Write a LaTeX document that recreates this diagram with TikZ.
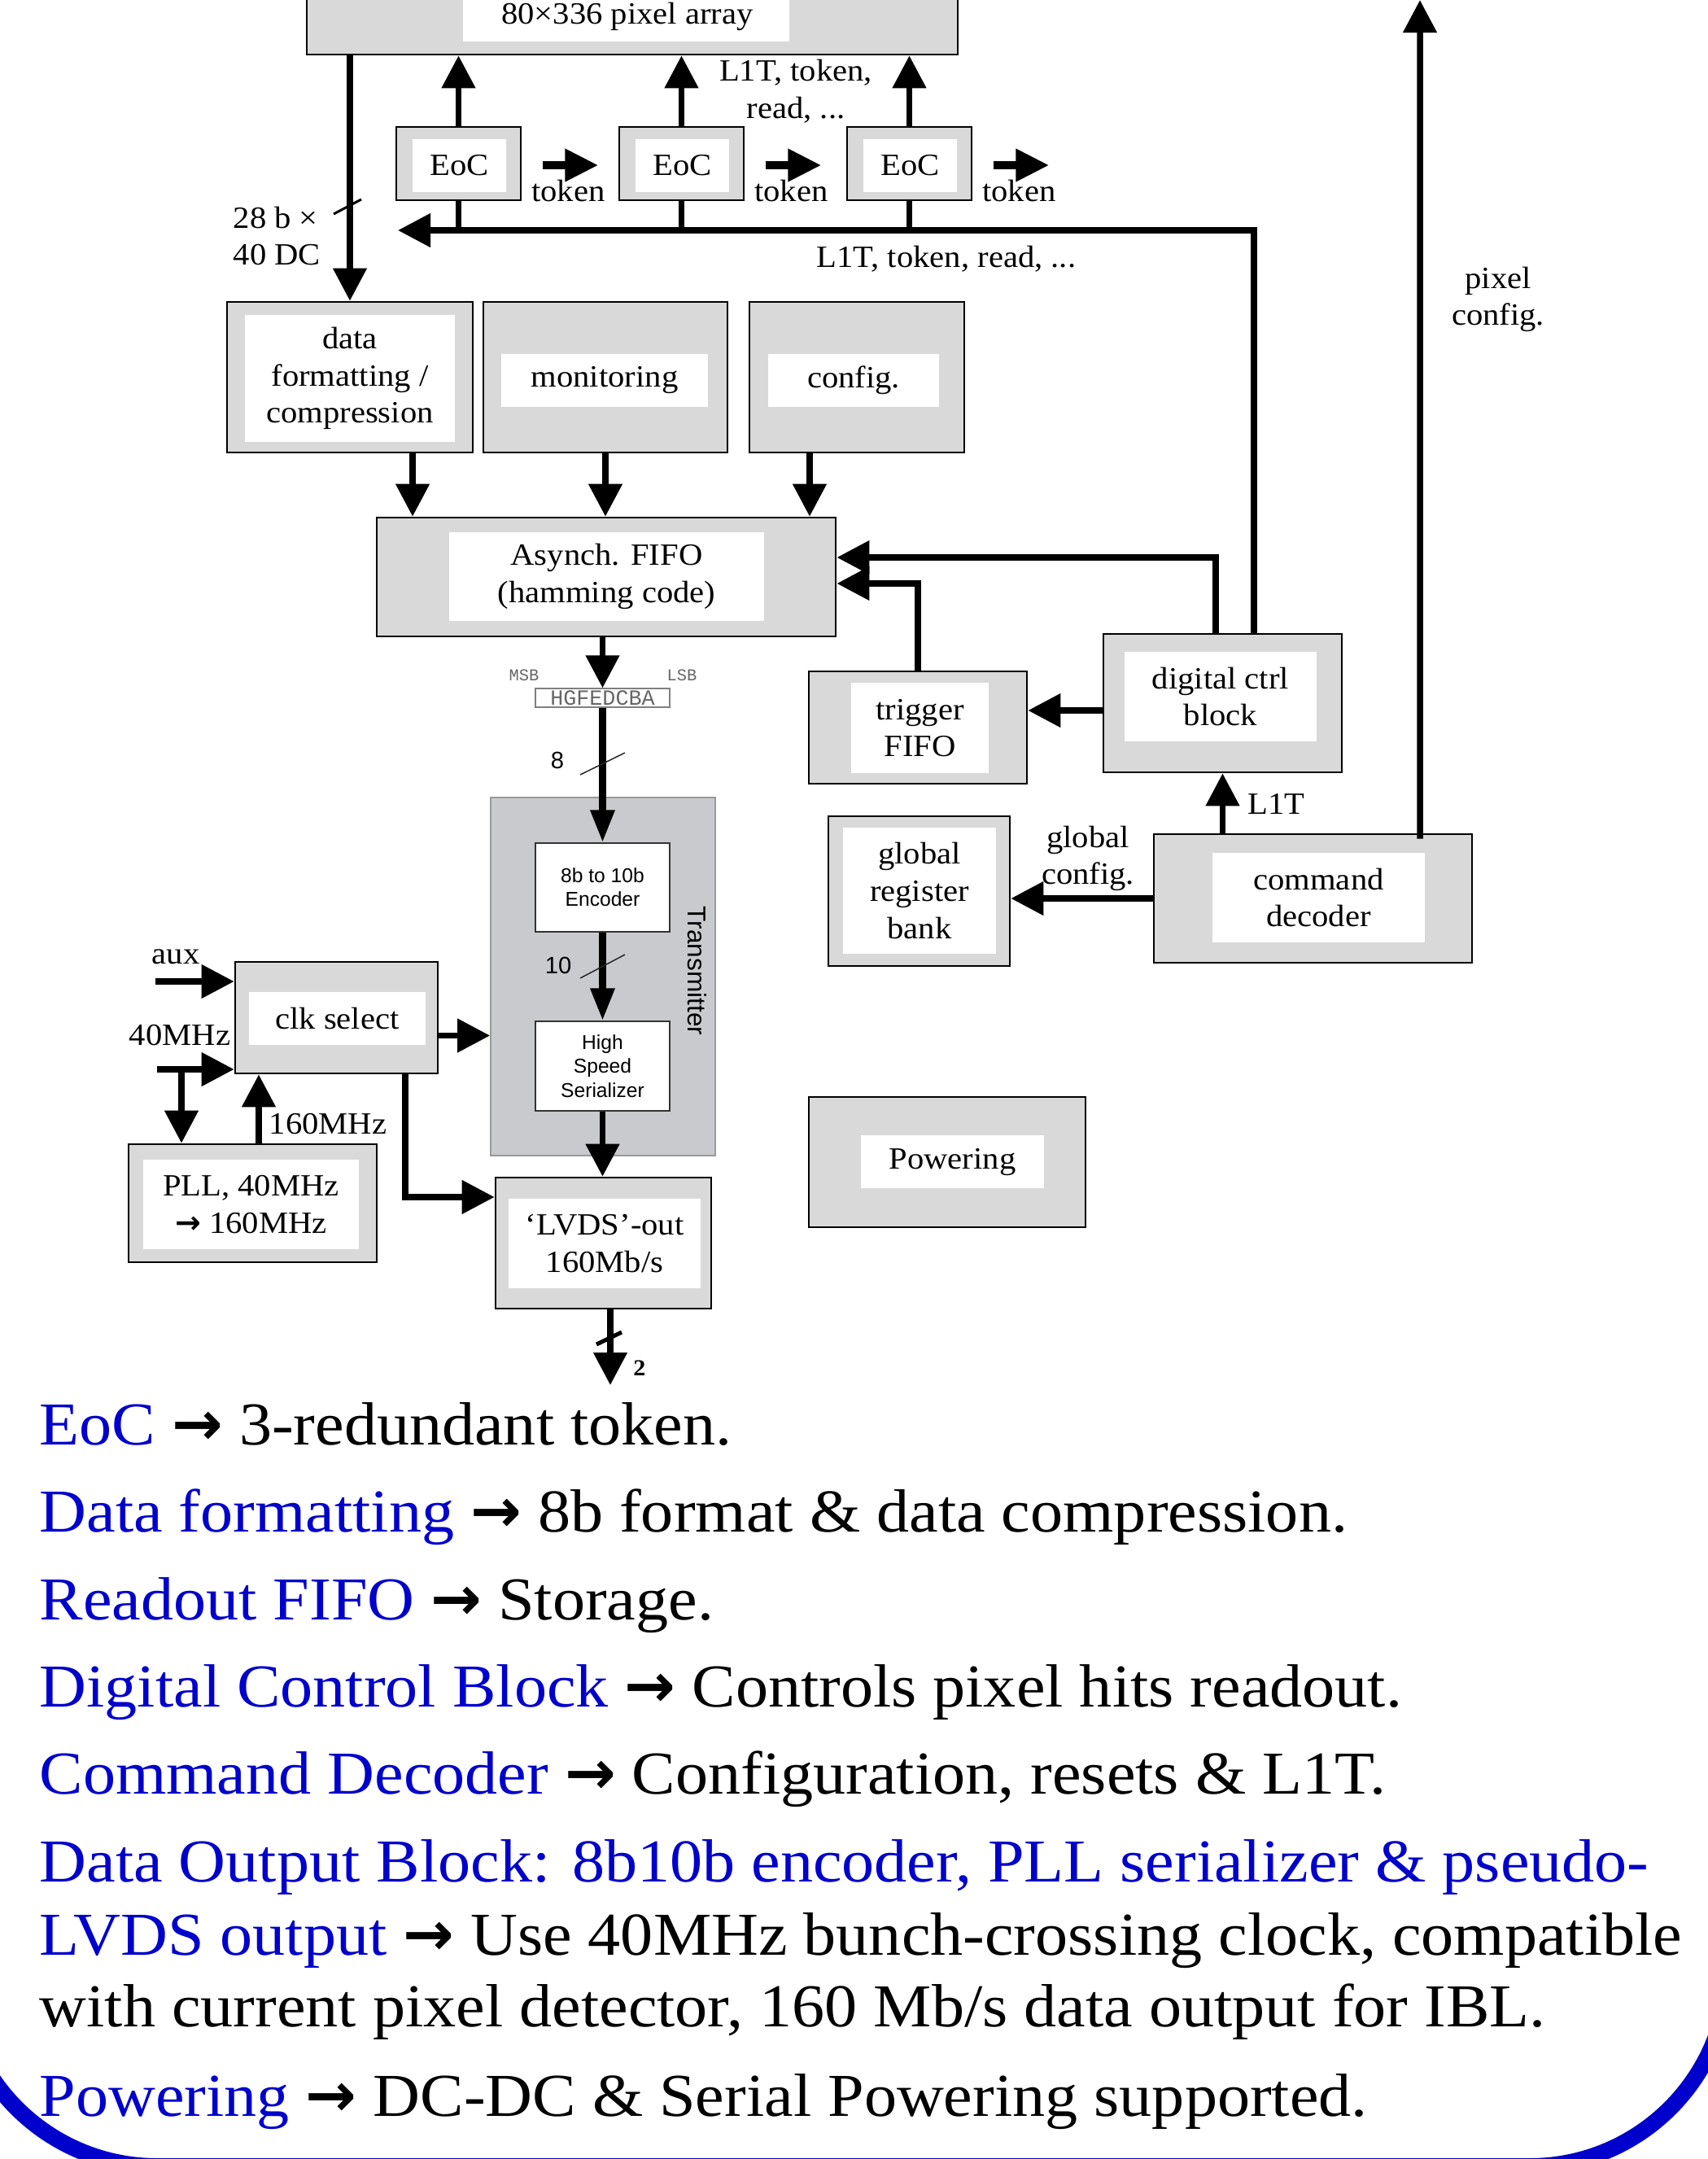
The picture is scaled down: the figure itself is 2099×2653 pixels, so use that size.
\documentclass[tikz,border=0pt]{standalone}
\usepackage{fontspec}
\setmainfont{Liberation Serif}[FakeStretch=1.07]
\setsansfont{Liberation Sans}
\setmonofont{Liberation Mono}
\newfontfamily\arrfont{DejaVu Sans}
\usepackage{tikz}
\usetikzlibrary{positioning, arrows.meta, calc}

\definecolor{boxgray}{RGB}{217,217,217}
\definecolor{txgray}{RGB}{200,202,205}
\definecolor{blu}{RGB}{0,0,204}
\newcommand{\diafont}{\fontsize{10.8}{13}\selectfont}
\newcommand{\bodyfont}{\fontsize{21.3}{25}\selectfont}
\newcommand{\txfont}{\sffamily\fontsize{7}{8.3}\selectfont}
\newcommand{\rarr}{{\arrfont\bfseries →}}

\tikzset{
  obox/.style={draw=black, line width=0.025cm, fill=boxgray, inner sep=0pt},
  ibox/.style={fill=white, inner sep=0pt, align=center, font=\diafont},
  lbl/.style={inner sep=0pt, align=center, font=\diafont},
  body/.style={anchor=base west, inner sep=0pt, font=\bodyfont},
  wbox/.style={draw=gray!40!black, line width=0.012cm, fill=white, inner sep=0pt, align=center, font=\txfont},
  bigarrow/.style={line width=0.075cm, -{Triangle[length=0.4cm,width=0.4cm]}},
  tokarrow/.style={line width=0.1cm, -{Triangle[length=0.41cm,width=0.38cm]}},
  txarrow/.style={line width=0.09cm, -{Triangle[length=0.4cm,width=0.28cm]}},
  bigline/.style={line width=0.075cm}
}

\begin{document}
\begin{tikzpicture}[x=0.01cm, y=-0.01cm]
\useasboundingbox (0,0) rectangle (2099,2653);
\clip (0,0) rectangle (2099,2653);

% pixel array and end of column
\node[obox, minimum width=8cm, minimum height=0.87cm] (pix) at (777,23.5) {};
\node[ibox, minimum width=4.01cm, minimum height=0.71cm] (pixin) at (769.5,15.5) {};
\node[lbl] (pixT) at (771,20) {80×336 pixel array};
\foreach \i/\x in {1/563.5, 2/837.5, 3/1117.5} {
  \node[obox, minimum width=1.53cm, minimum height=0.9cm] (eoc\i) at (\x,201) {};
  \node[ibox, minimum width=1.15cm, minimum height=0.65cm] (eocin\i) at (\x+1,203.5) {EoC};
  \draw[bigarrow] (eoc\i.north) -- (eoc\i.north |- pix.south);
  \coordinate (tokA\i) at ([xshift=0.26cm, yshift=-0.02cm]eoc\i.east);
  \coordinate (tokB\i) at ([xshift=0.68cm]tokA\i);
  \draw[tokarrow] (tokA\i) -- (tokB\i);
  \node[lbl, anchor=base] (tokL\i) at ([shift={(31,44)}]tokA\i) {token};
}
\node[lbl] (ctrlA) at (978,112) {L1T, token,\\read, ...};

% bus to the left
\coordinate (busL) at (489,283);
\foreach \i in {1,2,3} \draw[bigline] (eoc\i.south) -- (eoc\i.south |- busL);
\node[lbl, anchor=base west] (ctrlB) at (1003,328) {L1T, token, read, ...};

% periphery blocks
\node[obox, minimum width=3.02cm, minimum height=1.85cm] (fmt) at (430,463.5) {};
\node[ibox, minimum width=2.58cm, minimum height=1.56cm] (fmtin) at (430,465) {data\\formatting /\\compression};
\node[obox, minimum width=3cm, minimum height=1.85cm] (mon) at (744,463.5) {};
\node[ibox, minimum width=2.54cm, minimum height=0.65cm] (monin) at (743,467.5) {monitoring};
\node[obox, minimum width=2.64cm, minimum height=1.85cm] (cfg) at (1053,463.5) {};
\node[ibox, minimum width=2.1cm, minimum height=0.65cm] (cfgin) at (1049,467.5) {config.};

\draw[bigarrow] (fmt.north |- pix.south) -- (fmt.north);
\draw[line width=0.03cm] (410,263) -- (444,245);
\node[lbl, align=left, anchor=west] (bits) at (286,290) {28 b ×\\40 DC};

\node[obox, minimum width=5.64cm, minimum height=1.46cm] (fifo) at (745,709) {};
\node[ibox, minimum width=3.87cm, minimum height=1.09cm] (fifoin) at (745.5,708.5) {Asynch. FIFO\\(hamming code)};
\draw[bigarrow] ([xshift=0.77cm]fmt.south) -- ([xshift=0.77cm]fmt.south |- fifo.north);
\draw[bigarrow] (mon.south) -- (mon.south |- fifo.north);
\draw[bigarrow] ([xshift=-0.58cm]cfg.south) -- ([xshift=-0.58cm]cfg.south |- fifo.north);

\node[obox, minimum width=2.68cm, minimum height=1.38cm] (trig) at (1128,894) {};
\node[ibox, minimum width=1.69cm, minimum height=1.11cm] (trigin) at (1130.5,894.5) {trigger\\FIFO};
\node[obox, minimum width=2.93cm, minimum height=1.7cm] (dig) at (1502.5,864) {};
\node[ibox, minimum width=2.36cm, minimum height=1.1cm] (digin) at (1500,856) {digital ctrl\\block};
\node[obox, minimum width=2.23cm, minimum height=1.84cm] (glob) at (1129.5,1095) {};
\node[ibox, minimum width=1.88cm, minimum height=1.55cm] (globin) at (1130,1094.5) {global\\register\\bank};
\node[obox, minimum width=3.91cm, minimum height=1.58cm] (cmd) at (1613.5,1104) {};
\node[ibox, minimum width=2.61cm, minimum height=1.1cm] (cmdin) at (1620.5,1103) {command\\decoder};
\node[obox, minimum width=3.4cm, minimum height=1.6cm] (pwr) at (1164,1428) {};
\node[ibox, minimum width=2.25cm, minimum height=0.65cm] (pwrin) at (1170.5,1427.5) {Powering};

\draw[bigarrow] ([xshift=0.385cm]dig.north) |- (busL);
\draw[bigarrow] ([xshift=-0.085cm]dig.north) |- ([yshift=0.24cm]fifo.east);
\draw[bigarrow] (trig.north) |- ([yshift=-0.08cm]fifo.east);
\draw[bigarrow] ([yshift=-0.09cm]dig.west) -- ([yshift=-0.09cm]dig.west -| trig.east);
\draw[bigarrow] (dig.south |- cmd.north) -- (dig.south);
\node[lbl, anchor=base west] (l1t) at (1533,1000) {L1T};
\draw[bigarrow] (cmd.west) -- (cmd.west -| glob.east);
\node[lbl] (gcfg) at (1337,1055) {global\\config.};
\coordinate (pixcfg) at (1745,0);
\draw[bigarrow] ([xshift=1.315cm, yshift=-0.07cm]cmd.north) -- (pixcfg);
\node[lbl] (pcfg) at (1841,368) {pixel\\config.};

% data output
\node[font=\ttfamily\fontsize{5.8}{6}\selectfont, text=gray!80!black, inner sep=0pt, anchor=base] (msb) at (644,836) {MSB};
\node[font=\ttfamily\fontsize{5.8}{6}\selectfont, text=gray!80!black, inner sep=0pt, anchor=base] (lsb) at (838,836) {LSB};
\node[draw=gray, line width=0.012cm, font=\ttfamily\fontsize{7.6}{8}\selectfont, text=gray!80!black, inner sep=0pt, minimum width=1.65cm, minimum height=0.23cm] (hg) at (740.5,857.5) {HGFEDCBA};
\draw[bigarrow] (hg.north |- fifo.south) -- (hg.north);

\node[draw=gray!80, line width=0.015cm, fill=txgray, minimum width=2.76cm, minimum height=4.4cm] (tx) at (741,1200) {};
\node[wbox, minimum width=1.65cm, minimum height=1.09cm] (enc) at (740.5,1090.5) {8b to 10b\\Encoder};
\node[wbox, minimum width=1.65cm, minimum height=1.1cm] (ser) at (740.5,1310) {High\\Speed\\Serializer};
\node[rotate=-90, inner sep=0pt, font=\sffamily\fontsize{9}{10}\selectfont] (txlbl) at (857,1193) {Transmitter};
\draw[txarrow] (hg.south) -- (enc.north);
\draw[txarrow] (enc.south) -- (ser.north);
\draw[line width=0.015cm, gray!30!black] (713,952) -- (768,925);
\draw[line width=0.015cm, gray!30!black] (713,1202) -- (768,1173);
\node[font=\sffamily\fontsize{8.3}{9}\selectfont, inner sep=0pt] (w8) at (685,934) {8};
\node[font=\sffamily\fontsize{8.3}{9}\selectfont, inner sep=0pt] (w10) at (686,1186) {10};

\node[obox, minimum width=2.65cm, minimum height=1.61cm] (lvds) at (741.5,1527.5) {};
\node[ibox, minimum width=2.36cm, minimum height=1.1cm] (lvdsin) at (743,1528) {‘LVDS’-out\\160Mb/s};
\draw[bigarrow] (ser.south) -- (ser.south |- lvds.north);
\coordinate (outTip) at (750,1702);
\draw[bigarrow] (outTip |- lvds.south) -- (outTip);
\draw[line width=0.05cm] ([shift={(-17,-50)}]outTip) -- ([shift={(14,-65)}]outTip);
\node[font=\bfseries\fontsize{8}{9}\selectfont, inner sep=0pt] (two) at (786,1681) {2};

% clocks
\node[obox, minimum width=2.49cm, minimum height=1.37cm] (clk) at (413.5,1250.5) {};
\node[ibox, minimum width=2.17cm, minimum height=0.65cm] (clkin) at (414.5,1251.5) {clk select};
\node[obox, minimum width=3.05cm, minimum height=1.45cm] (pll) at (310.5,1478.5) {};
\node[ibox, minimum width=2.65cm, minimum height=1.1cm] (pllin) at (308.5,1480) {PLL, 40MHz\\\rarr\ 160MHz};
\coordinate (auxIn) at (191,1206);
\coordinate (mhzIn) at (193,1314);
\coordinate (mhzJ) at (223,1314);
\draw[bigarrow] (auxIn) -- (auxIn -| clk.west);
\draw[bigarrow] (mhzIn) -- (mhzIn -| clk.west);
\draw[bigarrow] (mhzJ) -- (mhzJ |- pll.north);
\draw[bigarrow] ([xshift=0.075cm]pll.north) -- ([xshift=0.075cm]pll.north |- clk.south);
\node[lbl, anchor=base] (auxL) at (216,1184) {aux};
\node[lbl, anchor=base] (mhzL) at (221,1284) {40MHz};
\node[lbl, anchor=base west] (pllL) at (330,1393) {160MHz};
\draw[bigarrow] ([yshift=-0.22cm]clk.east) -- ([yshift=-0.22cm]clk.east -| tx.west);
\draw[bigarrow] ([xshift=0.845cm]clk.south) |- ([yshift=0.565cm]lvds.west);

% text below
\node[body] (t1) at (48,1775) {\textcolor{blu}{EoC} \rarr\ 3-redundant token.};
\node[body] (t2) at (48,1882) {\textcolor{blu}{Data formatting} \rarr\ 8b format \& data compression.};
\node[body] (t3) at (48,1990) {\textcolor{blu}{Readout FIFO} \rarr\ Storage.};
\node[body] (t4) at (48,2097) {\textcolor{blu}{Digital Control Block} \rarr\ Controls pixel hits readout.};
\node[body] (t5) at (48,2204) {\textcolor{blu}{Command Decoder} \rarr\ Configuration, resets \& L1T.};
\node[body] (t6) at (48,2312) {\textcolor{blu}{Data Output Block: 8b10b encoder, PLL serializer \& pseudo-}};
\node[body] (t7) at (48,2402) {\textcolor{blu}{LVDS output} \rarr\ Use 40MHz bunch-crossing clock, compatible};
\node[body] (t8) at (48,2490) {with current pixel detector, 160 Mb/s data output for IBL.};
\node[body] (t9) at (48,2600) {\textcolor{blu}{Powering} \rarr\ DC-DC \& Serial Powering supported.};

% frame
\draw[blu, line width=0.2cm, rounded corners=2.44cm] (-51,1900) -- (-51,2662) -- (2124,2662) -- (2124,1900);
\end{tikzpicture}
\end{document}
